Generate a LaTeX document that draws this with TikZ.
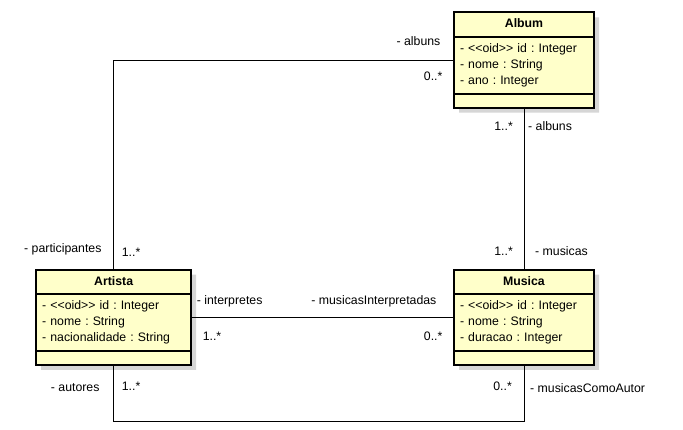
\documentclass[tikz,border=0pt]{standalone}
\usepackage{fontspec}
\setmainfont{Liberation Sans}
\usetikzlibrary{shapes.multipart,positioning,shadows}

\definecolor{classfill}{RGB}{255,255,202}

\newcommand{\classname}[1]{\hbox to\hsize{\hss\strut\textbf{#1}\hss}}

\begin{document}
\begin{tikzpicture}[
    x=1pt, y=1pt,
    node distance=2cm,
    font=\fontsize{12.3}{16}\selectfont\frenchspacing,
    umlclass/.style={rectangle split, rectangle split parts=3, draw, line width=0.8pt, fill=classfill, inner xsep=6pt, inner ysep=4pt, drop shadow={shadow xshift=5pt, shadow yshift=-5pt, fill=black!16, opacity=1}, postaction={draw, line width=2pt}},
    role/.style={inner sep=0pt, text height=9pt, text depth=3pt},
    assoc/.style={line width=0.8pt}
]
    \useasboundingbox (0,0) rectangle (683,429);

    % Classes
    \node[umlclass, text width=128pt] (album) at (524,369)
        {\classname{Album}
         \nodepart{second}\strut- {<}{<}oid{>}{>} id : Integer\\- nome : String\\- ano : Integer\strut
         \nodepart{third}\rule{0pt}{5pt}};
    \node[umlclass, text width=128pt, below=161pt of album] (musica)
        {\classname{Musica}
         \nodepart{second}\strut- {<}{<}oid{>}{>} id : Integer\\- nome : String\\- duracao : Integer\strut
         \nodepart{third}\rule{0pt}{5pt}};
    \node[umlclass, text width=143pt, left=262pt of musica] (artista)
        {\classname{Artista}
         \nodepart{second}\strut- {<}{<}oid{>}{>} id : Integer\\- nome : String\\- nacionalidade : String\strut
         \nodepart{third}\rule{0pt}{5pt}};

    % Associations
    \draw[assoc] (album.west) -| (artista.north);
    \draw[assoc] (album.south) -- (musica.north);
    \draw[assoc] (artista.east) -- (musica.west);
    \draw[assoc] (artista.south) -- ++(0,-56) -| (musica.south);

    % Album - Artista
    \node[role, above left=11pt and 13pt of album.west] (albunsA) {- albuns};
    \node[role, below left=11pt and 11pt of album.west] (multAlbumA) {0..*};
    \node[role, above left=13pt and 12pt of artista.north] (participantes) {- participantes};
    \node[role, above right=9pt and 8pt of artista.north] (multPart) {1..*};

    % Album - Musica
    \node[role, below left=13pt and 11pt of album.south] (multAlbumM) {1..*};
    \node[role, below right=13pt and 4pt of album.south] (albunsM) {- albuns};
    \node[role, above left=10pt and 11pt of musica.north] (multMusicas) {1..*};
    \node[role, above right=10pt and 11pt of musica.north] (musicas) {- musicas};

    % Artista - Musica (interpretes)
    \node[role, above right=9.5pt and 5pt of artista.east] (interpretes) {- interpretes};
    \node[role, below right=14.5pt and 11pt of artista.east] (multInterp) {1..*};
    \node[role, above left=9.5pt and 17pt of musica.west] (musicasInterp) {- musicasInterpretadas};
    \node[role, below left=14.5pt and 11pt of musica.west] (multMusInterp) {0..*};

    % Artista - Musica (autores)
    \node[role, below left=17pt and 14pt of artista.south] (autores) {- autores};
    \node[role, below right=16pt and 8pt of artista.south] (multAutores) {1..*};
    \node[role, below left=16pt and 12pt of musica.south] (multComoAutor) {0..*};
    \node[role, below right=18pt and 6pt of musica.south] (comoAutor) {- musicasComoAutor};
\end{tikzpicture}
\end{document}
